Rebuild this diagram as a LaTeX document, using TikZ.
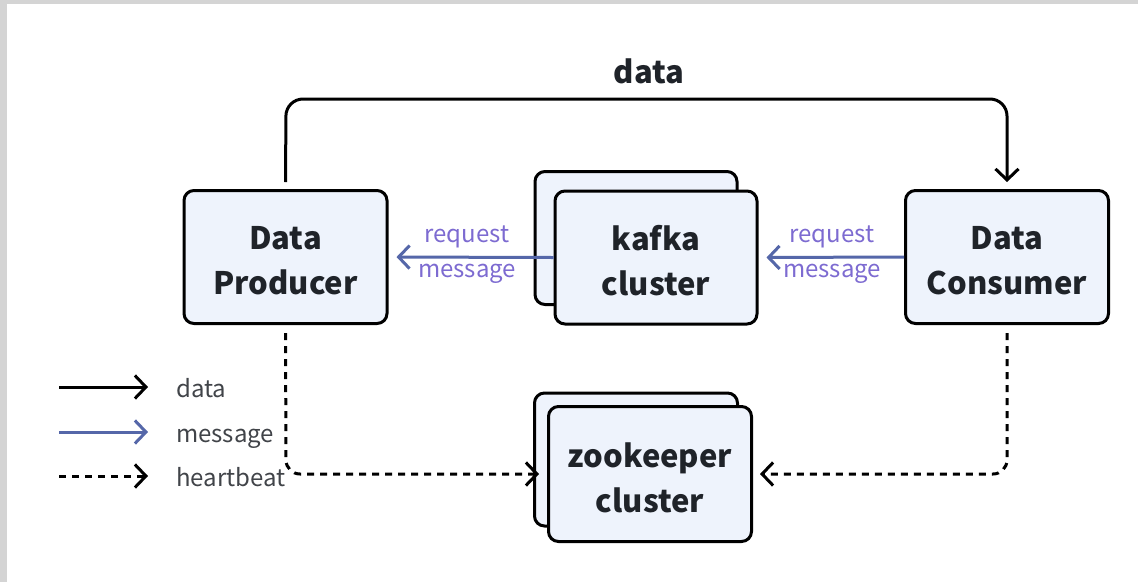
\documentclass[tikz,border=0pt]{standalone}
\usepackage{fontspec}
\setmainfont{Noto Sans CJK SC}
\usetikzlibrary{arrows.meta}
\definecolor{boxfill}{HTML}{EEF3FC}
\definecolor{txt}{HTML}{1F2329}
\definecolor{lbl}{HTML}{7D6BD1}
\definecolor{msg}{HTML}{5567A9}
\definecolor{frame}{HTML}{D4D4D4}
\tikzset{
  box/.style={draw=black, fill=boxfill, line width=3pt, rounded corners=10pt,
    minimum width=203pt, minimum height=133pt, inner sep=0pt, align=center,
    text=txt, font=\fontsize{31}{45}\selectfont\bfseries},
  tip/.style={-{Straight Barb[length=11pt,width=23pt,line width=3pt]}},
  dataline/.style={tip, line width=3pt, black},
  msgline/.style={tip, line width=3pt, msg},
  hbline/.style={tip, line width=3pt, black, dash pattern=on 7pt off 6pt},
  lbltext/.style={text=lbl, align=center, font=\fontsize{24}{35}\selectfont, inner sep=0pt},
  legtext/.style={text=txt!85, anchor=base west, font=\fontsize{24}{30}\selectfont, inner sep=0pt},
}
\begin{document}
\begin{tikzpicture}[x=1pt,y=-1pt]
\fill[frame] (0,0) rectangle (1138,582);
\fill[white] (7,4) rectangle (1138,582);
\useasboundingbox (0,0) rectangle (1138,582);

% boxes
\node[box] (prod) at (285.5,257) {};
\node[box, minimum width=202pt] (kafkab) at (636,238) {};
\node[box, minimum width=202pt] (kafka) at (656,257.5) {};
\node[box] (cons) at (1007,257) {};
\node[box, minimum width=203pt] (zkb) at (636,459.5) {};
\node[box, minimum width=203pt, minimum height=135pt] (zk) at (650,474) {};
\node[box, draw=none, fill=none, minimum width=0pt, minimum height=0pt] (prodt) at (285.5,260.5) {Data\\Producer};
\node[box, draw=none, fill=none, minimum width=0pt, minimum height=0pt] (kafkat) at (656,261) {kafka\\cluster};
\node[box, draw=none, fill=none, minimum width=0pt, minimum height=0pt] (const) at (1007,260.5) {Data\\Consumer};
\node[box, draw=none, fill=none, minimum width=0pt, minimum height=0pt] (zkt) at (650,477.5) {zookeeper\\cluster};

% data arrow
\coordinate (dtop1) at (286,99);
\coordinate (dtop2) at (1007,99);
\draw[dataline, rounded corners=17pt, shorten <=7pt, shorten >=7pt]
  (prod.north) -- (dtop1) -- (dtop2) -- (cons.north);
\node[text=txt, font=\fontsize{31}{33}\selectfont\bfseries, inner sep=0pt] (dlabel) at (649,71) {data};

% message arrows
\draw[msgline, shorten >=8pt] (kafka.west) -- (prod.east);
\draw[msgline, shorten >=8pt] (cons.west) -- (kafka.east);
\node[lbltext] (lbl1) at (467,254.5) {request\\message};
\node[lbltext] (lbl2) at (832,254.5) {request\\message};

% heartbeat
\coordinate (hb1) at (286,474);
\coordinate (hb2) at (1007,474);
\draw[hbline, rounded corners=14pt, shorten <=8pt, shorten >=8pt]
  (prod.south) -- (hb1) -- (zk.west);
\draw[hbline, rounded corners=14pt, shorten <=8pt, shorten >=7pt]
  (cons.south) -- (hb2) -- (zk.east);

% legend
\coordinate (l1a) at (59,387); \coordinate (l1b) at (148,387);
\coordinate (l2a) at (59,432); \coordinate (l2b) at (148,432);
\coordinate (l3a) at (59,476); \coordinate (l3b) at (148,476);
\draw[dataline] (l1a) -- (l1b);
\draw[msgline] (l2a) -- (l2b);
\draw[hbline] (l3a) -- (l3b);
\node[legtext] (t1) at (176,397) {data};
\node[legtext] (t2) at (176,442) {message};
\node[legtext] (t3) at (176,486) {heartbeat};
\end{tikzpicture}
\end{document}
